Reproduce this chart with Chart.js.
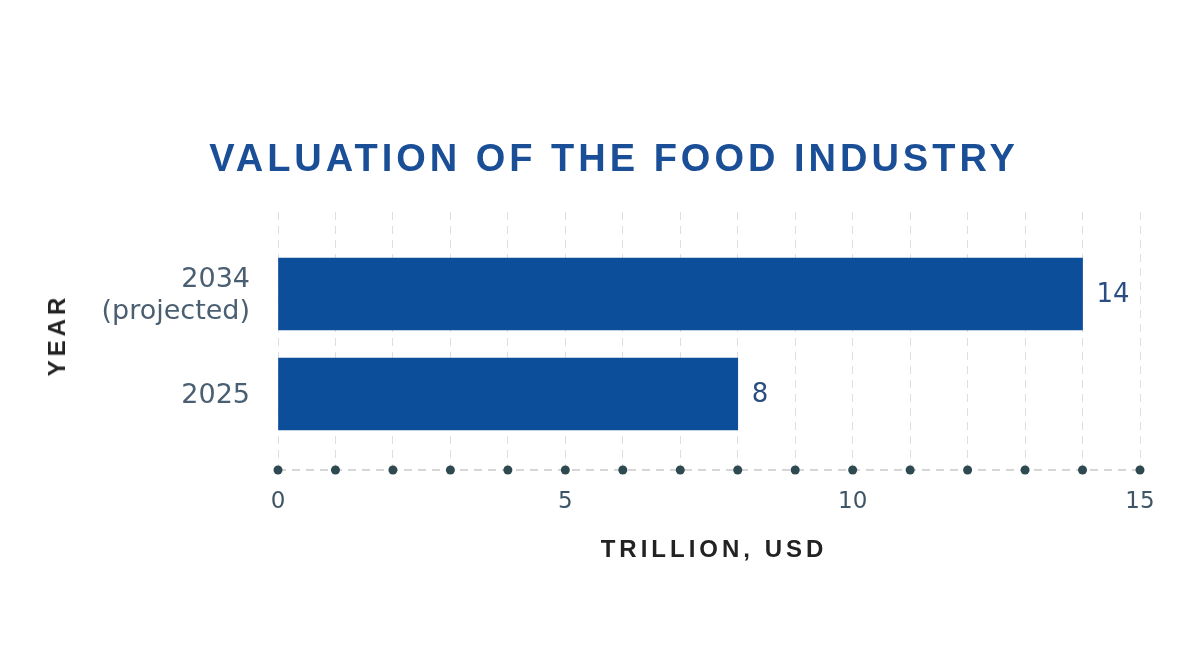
<!DOCTYPE html>
<html>
<head>
<meta charset="utf-8">
<title>Valuation of the Food Industry</title>
<script src="https://cdn.jsdelivr.net/npm/chart.js@4/dist/chart.umd.min.js"></script>
<style>
  html, body { margin: 0; padding: 0; background: #fff; }
  #wrap { position: relative; width: 1200px; height: 671px; overflow: hidden; }
  #chart { position: absolute; left: 0; top: 0; }
  .ttl {
    position: absolute; font-family: "Liberation Sans", Arial, sans-serif;
    font-weight: bold; white-space: nowrap;
  }
  #title {
    left: 0; width: 1200px; top: 139px; padding-left: 28px; box-sizing: border-box;
    text-align: center; font-size: 38px; line-height: 38px; letter-spacing: 4px; color: #1a4e96;
  }
  #xTitle {
    left: 714px; top: 537px; transform: translateX(-50%);
    font-size: 24px; line-height: 24px; letter-spacing: 4px; color: #222;
  }
  #yTitle {
    left: 57px; top: 335px; transform: translate(-50%, -50%) rotate(-90deg);
    font-size: 24px; line-height: 24px; letter-spacing: 4px; color: #222;
  }
</style>
</head>
<body>
<div id="wrap">
  <canvas id="chart" width="1200" height="671"></canvas>
  <div id="title" class="ttl">VALUATION OF THE FOOD INDUSTRY</div>
  <div id="xTitle" class="ttl">TRILLION, USD</div>
  <div id="yTitle" class="ttl">YEAR</div>
</div>
<script>
// ---------- DATA ----------
const categories = [["2034", "(projected)"], "2025"];
const values = [14, 8];          // trillion USD
const xTicksShown = [0, 5, 10, 15];

// ---------- STYLE ----------
const BAR = "#0c4e99";
const TICK_FONT = "'DejaVu Sans', sans-serif";

// dashed axis line with dots at each tick + value labels next to bars
const extras = {
  id: "extras",
  afterDatasetsDraw(chart) {
    const { ctx, chartArea, scales: { x } } = chart;
    const y0 = chartArea.bottom;
    ctx.save();
    ctx.strokeStyle = "#c9c9c9";
    ctx.lineWidth = 1.5;
    ctx.setLineDash([8, 6]);
    ctx.beginPath();
    ctx.moveTo(x.getPixelForValue(x.min), y0);
    ctx.lineTo(x.getPixelForValue(x.max), y0);
    ctx.stroke();
    ctx.setLineDash([]);
    ctx.fillStyle = "#2e4a50";
    x.ticks.forEach((t) => {
      ctx.beginPath();
      ctx.arc(x.getPixelForValue(t.value), y0, 4.5, 0, Math.PI * 2);
      ctx.fill();
    });

    ctx.fillStyle = "#2b4d80";
    ctx.font = "26px " + TICK_FONT;
    ctx.textAlign = "left";
    ctx.textBaseline = "middle";
    chart.getDatasetMeta(0).data.forEach((bar, i) => {
      ctx.fillText(String(values[i]), bar.x + 14, bar.y + 1);
    });
    ctx.restore();
  }
};

new Chart(document.getElementById("chart"), {
  type: "bar",
  data: {
    datasets: [{
      data: values.map((v, i) => ({ x: v, y: i })),
      backgroundColor: BAR,
      borderWidth: 0,
      barThickness: 72
    }]
  },
  options: {
    indexAxis: "y",
    responsive: false,
    animation: false,
    layout: { padding: { top: 212, right: 60, bottom: 141, left: 0 } },
    plugins: { legend: { display: false }, tooltip: { enabled: false } },
    scales: {
      x: {
        type: "linear",
        min: 0,
        max: 15,
        afterFit: (s) => { s.height = 60; },
        ticks: {
          stepSize: 1,
          autoSkip: false,
          maxRotation: 0,
          padding: 18,
          color: "#3d5566",
          font: { family: TICK_FONT, size: 23 },
          callback: (v) => (xTicksShown.includes(v) ? String(v) : "")
        },
        grid: { color: "#dedede", lineWidth: 1, drawTicks: false },
        border: { display: false, dash: [8, 6] }
      },
      y: {
        // linear index axis so the two bars sit 100px apart inside a taller plot
        type: "linear",
        bounds: "data",
        offset: false,
        reverse: true,
        min: -0.82,
        max: 1.76,
        afterFit: (s) => { s.width = 278; },
        afterBuildTicks: (s) => {
          s.ticks = categories.map((c, i) => ({ value: i }));
        },
        ticks: {
          padding: 20,
          labelOffset: 2,
          color: "#4a5f72",
          font: { family: TICK_FONT, size: 27, lineHeight: 1.18 },
          callback: (v) => categories[v]
        },
        grid: { display: false, offset: false },
        border: { display: false }
      }
    }
  },
  plugins: [extras]
});
</script>
</body>
</html>
